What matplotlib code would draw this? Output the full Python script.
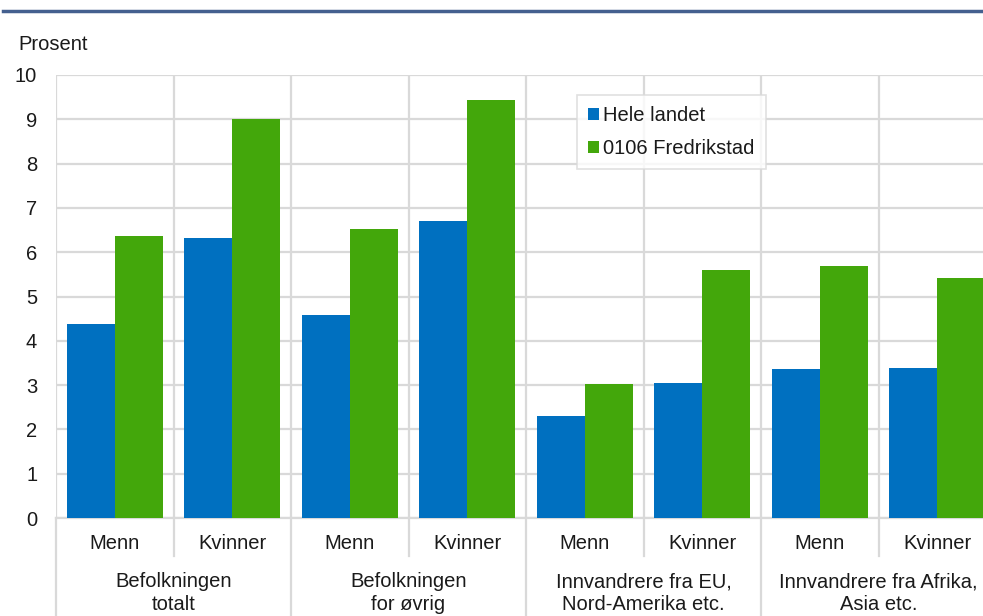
import matplotlib.pyplot as plt
import matplotlib.transforms as mtransforms
import numpy as np

plt.rcParams['font.family'] = ['Liberation Sans', 'DejaVu Sans']

groups = ["Befolkningen\ntotalt", "Befolkningen\nfor øvrig",
          "Innvandrere fra EU,\nNord-Amerika etc.", "Innvandrere fra Afrika,\nAsia etc."]
sexes = ["Menn", "Kvinner"]
hele_landet = [4.39, 6.33, 4.59, 6.71, 2.31, 3.05, 3.37, 3.39]
fredrikstad = [6.36, 9.00, 6.53, 9.43, 3.03, 5.59, 5.68, 5.41]
series_names = ["Hele landet", "0106 Fredrikstad"]

blue = "#0070c0"
green = "#43a70b"
grid_col = "#d9d9d9"
txt_col = "#1a1a1a"
fs = 14.5

W, H = 983, 616
fig = plt.figure(figsize=(W / 100, H / 100), dpi=100)
ax = fig.add_axes([56 / W, (H - 518) / H, 940 / W, 443 / H])

x = np.arange(len(hele_landet))
bw = 0.41
ax.bar(x - bw / 2, hele_landet, bw, color=blue, label=series_names[0], zorder=3)
ax.bar(x + bw / 2, fredrikstad, bw, color=green, label=series_names[1], zorder=3)

ax.set_xlim(-0.5, len(x) - 0.5)
ax.set_ylim(0, 10)
ax.set_yticks(range(0, 11))
ax.tick_params(axis='y', length=0, pad=13.5, labelsize=fs, labelcolor=txt_col)
ax.set_xticks([])
ax.grid(axis='y', color=grid_col, linewidth=1.6, zorder=0)
for s in ["top", "right", "left"]:
    ax.spines[s].set_visible(False)
ax.spines["bottom"].set_color(grid_col)
ax.spines["bottom"].set_linewidth(1.6)

# vertical separators (inside plot and below it)
trans = mtransforms.blended_transform_factory(ax.transData, ax.transAxes)
for i in range(len(x) + 1):
    xp = i - 0.5
    ax.plot([xp, xp], [0, 1], color=grid_col, lw=1.6, transform=trans, zorder=1)
    y_end = -0.23 if i % 2 == 0 else -0.086
    ax.plot([xp, xp], [0, y_end], color=grid_col, lw=1.6, transform=trans, clip_on=False)

# category labels
for i in range(len(x)):
    ax.text(i, -0.057, sexes[i % 2], transform=trans, ha='center', va='center',
            fontsize=fs, color=txt_col)
for g, name in enumerate(groups):
    ax.text(2 * g + 0.5, -0.17, name, transform=trans, ha='center', va='center',
            fontsize=fs, color=txt_col, linespacing=1.25)

fig.text(18 / W, 1 - 45 / H, "Prosent", fontsize=fs, color=txt_col, va='center')

# header rule
fig.add_artist(plt.Line2D([3 / W, 1], [1 - 11 / H, 1 - 11 / H], color="#44608f", lw=2.5))

leg = ax.legend(loc='upper left', bbox_to_anchor=(577 / W, 1 - 95 / H),
                bbox_transform=fig.transFigure, fontsize=fs, frameon=True,
                fancybox=False, edgecolor=grid_col, handlelength=0.55, handleheight=0.55,
                handletextpad=0.2, labelspacing=0.7, borderpad=0.55, borderaxespad=0)
leg.get_frame().set_linewidth(1.2)
for t in leg.get_texts():
    t.set_color(txt_col)

fig.savefig("out.png", dpi=100)
